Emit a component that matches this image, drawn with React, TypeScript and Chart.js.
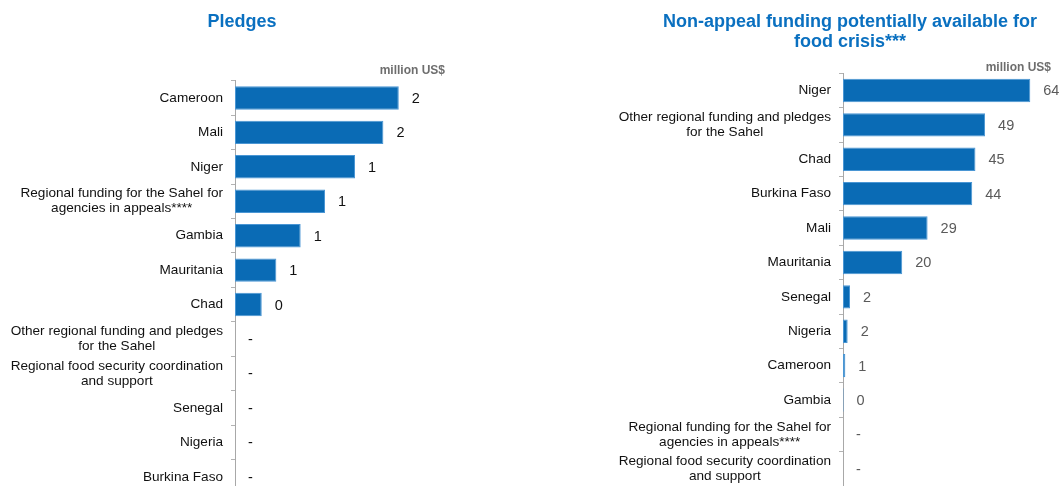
import React, { useEffect, useRef } from "react";
import { Chart, registerables } from "chart.js";

Chart.register(...registerables);

const FONT = "'Liberation Sans', Arial, Helvetica, sans-serif";

// ---- Left chart: Pledges ----
const pledgeTitle = "Pledges";
const pledgeCategories: (string | string[])[] = [
  "Cameroon",
  "Mali",
  "Niger",
  ["Regional funding for the Sahel for", "agencies in appeals****"],
  "Gambia",
  "Mauritania",
  "Chad",
  ["Other regional funding and pledges", "for the Sahel"],
  ["Regional food security coordination", "and support"],
  "Senegal",
  "Nigeria",
  "Burkina Faso",
];
const pledgeValues: (number | null)[] = [2.02, 1.83, 1.48, 1.11, 0.81, 0.51, 0.33, null, null, null, null, null];
const pledgeMax = 2.59;

// ---- Right chart: Non-appeal funding ----
const nonAppealTitle = ["Non-appeal funding potentially available for", "food crisis***"];
const nonAppealCategories: (string | string[])[] = [
  "Niger",
  ["Other regional funding and pledges", "for the Sahel"],
  "Chad",
  "Burkina Faso",
  "Mali",
  "Mauritania",
  "Senegal",
  "Nigeria",
  "Cameroon",
  "Gambia",
  ["Regional funding for the Sahel for", "agencies in appeals****"],
  ["Regional food security coordination", "and support"],
];
const nonAppealValues: (number | null)[] = [64.2, 48.7, 45.4, 44.3, 29.0, 20.3, 2.4, 1.6, 0.8, 0.2, null, null];
const nonAppealMax = 71.3;

const unitLabel = "million US$";

const LABEL_SIZE = 13.6;
const LABEL_LH = 15;

function fmt(v: number | null) {
  return v == null ? "-" : String(Math.round(v));
}

function makeValueLabelPlugin(color: string) {
  return {
    id: "valueLabels",
    afterDatasetsDraw(chart: any) {
      const { ctx } = chart;
      const xs = chart.scales.x;
      const ys = chart.scales.y;
      const data = chart.data.datasets[0].data as (number | null)[];
      ctx.save();
      ctx.font = `14.5px ${FONT}`;
      ctx.fillStyle = color;
      ctx.textAlign = "left";
      ctx.textBaseline = "middle";
      data.forEach((v, i) => {
        const x = xs.getPixelForValue(v == null ? 0 : v) + 13;
        const y = ys.getPixelForValue(i);
        ctx.fillText(fmt(v), x, y + 1);
      });
      ctx.restore();
    },
  };
}

// category labels: right-aligned block, lines centred within a multi-line block
const categoryLabelPlugin = {
  id: "categoryLabels",
  afterDraw(chart: any) {
    const { ctx } = chart;
    const ys = chart.scales.y;
    const labels = chart.data.labels as (string | string[])[];
    const right = ys.right - 12;
    ctx.save();
    ctx.font = `${LABEL_SIZE}px ${FONT}`;
    ctx.fillStyle = "#111";
    ctx.textBaseline = "middle";
    labels.forEach((lab, i) => {
      const cy = ys.getPixelForValue(i);
      const lines = Array.isArray(lab) ? lab : [lab];
      const maxW = Math.max(...lines.map((l) => ctx.measureText(l).width));
      const y0 = cy - ((lines.length - 1) * LABEL_LH) / 2;
      lines.forEach((l, k) => {
        if (lines.length === 1) {
          ctx.textAlign = "right";
          ctx.fillText(l, right, y0 + k * LABEL_LH);
        } else {
          ctx.textAlign = "center";
          ctx.fillText(l, right - maxW / 2, y0 + k * LABEL_LH);
        }
      });
    });
    ctx.restore();
  },
};

// shifts the title block horizontally (title is not centred over the canvas)
const titleShiftPlugin = {
  id: "titleShift",
  afterLayout(chart: any, _args: any, opts: any) {
    const t = chart.titleBlock;
    if (t && opts && opts.shift) {
      t.left += opts.shift;
      t.right += opts.shift;
    }
  },
};

function buildConfig(opts: {
  categories: (string | string[])[];
  values: (number | null)[];
  max: number;
  title: string | string[];
  titleBottom: number;
  titleShift: number;
  axisTitlePad: { top: number; bottom: number };
  axisTitleLH: number;
  yWidth: number;
  padRight: number;
  valueColor: string;
}) {
  return {
    type: "bar" as const,
    data: {
      labels: opts.categories,
      datasets: [
        {
          data: opts.values,
          backgroundColor: "#0a6bb5",
          borderColor: "#4a96d4",
          borderWidth: 1,
          borderSkipped: false,
          barPercentage: 0.68,
          categoryPercentage: 1,
        },
      ],
    },
    options: {
      indexAxis: "y" as const,
      responsive: false,
      animation: false as const,
      layout: { padding: { left: 0, right: opts.padRight, top: 0, bottom: 0 } },
      plugins: {
        legend: { display: false },
        tooltip: { enabled: false },
        titleShift: { shift: opts.titleShift },
        title: {
          display: true,
          text: opts.title,
          color: "#0a70c0",
          font: { family: FONT, size: 18, weight: "bold" as const, lineHeight: 1.1 },
          padding: { top: 12, bottom: opts.titleBottom },
        },
      },
      scales: {
        x: {
          position: "top" as const,
          min: 0,
          max: opts.max,
          ticks: { display: false },
          grid: { display: false, drawTicks: false },
          border: { display: false },
          title: {
            display: true,
            text: unitLabel,
            align: "end" as const,
            color: "#6e6e6e",
            font: { family: FONT, size: 12, weight: "bold" as const, lineHeight: opts.axisTitleLH },
            padding: opts.axisTitlePad,
          },
        },
        y: {
          afterFit: (scale: any) => {
            scale.width = opts.yWidth;
            scale.paddingTop = 0;
            scale.paddingBottom = 0;
          },
          ticks: {
            display: false,
            autoSkip: false,
          },
          grid: {
            display: true,
            drawOnChartArea: false,
            drawTicks: true,
            tickLength: 4,
            color: "#b3b3b3",
          },
          border: { display: true, color: "#a8a8a8", width: 1 },
        },
      },
    },
    plugins: [makeValueLabelPlugin(opts.valueColor), categoryLabelPlugin, titleShiftPlugin],
  };
}

export default function App() {
  const leftRef = useRef<HTMLCanvasElement>(null);
  const rightRef = useRef<HTMLCanvasElement>(null);

  useEffect(() => {
    const left = new Chart(
      leftRef.current!,
      buildConfig({
        categories: pledgeCategories,
        values: pledgeValues,
        max: pledgeMax,
        title: pledgeTitle,
        titleBottom: 28,
        titleShift: 19.5,
        axisTitlePad: { top: 4, bottom: 2.5 },
        axisTitleLH: 1.2,
        yWidth: 235,
        padRight: 39,
        valueColor: "#111",
      }) as any
    );
    const right = new Chart(
      rightRef.current!,
      buildConfig({
        categories: nonAppealCategories,
        values: nonAppealValues,
        max: nonAppealMax,
        title: nonAppealTitle,
        titleBottom: 5.7,
        titleShift: 24.5,
        axisTitlePad: { top: 4, bottom: 0 },
        axisTitleLH: 1.0,
        yWidth: 243,
        padRight: 9,
        valueColor: "#5a5a5a",
      }) as any
    );
    return () => {
      left.destroy();
      right.destroy();
    };
  }, []);

  return (
    <div
      style={{
        position: "fixed",
        left: 0,
        top: 0,
        width: 1060,
        height: 486,
        overflow: "hidden",
        background: "#fff",
      }}
    >
      <div style={{ position: "absolute", left: 0, top: 0, width: 484, height: 494 }}>
        <canvas ref={leftRef} width={484} height={494} style={{ display: "block" }} />
      </div>
      <div style={{ position: "absolute", left: 600, top: 0, width: 460, height: 486 }}>
        <canvas ref={rightRef} width={460} height={486} style={{ display: "block" }} />
      </div>
    </div>
  );
}
